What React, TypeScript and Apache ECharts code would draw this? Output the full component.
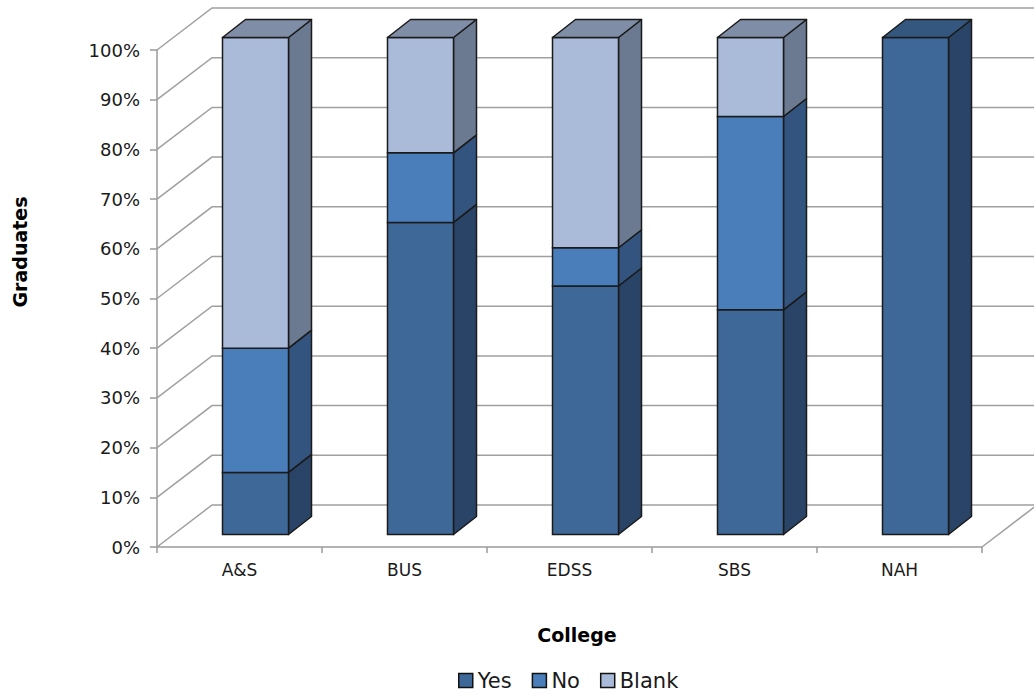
import React, { useEffect, useRef } from "react";
import * as echarts from "echarts";

const categories = ["A&S", "BUS", "EDSS", "SBS", "NAH"];
const yesValues = [12.5, 62.8, 50, 45.2, 100];
const noValues = [25, 14, 7.7, 38.9, 0];
const blankValues = [62.5, 23.2, 42.3, 15.9, 0];
const gridTicks = [0, 10, 20, 30, 40, 50, 60, 70, 80, 90, 100];
const xTitle = "College";
const yTitle = "Graduates";

const FONT = "DejaVu Sans";
const WALL_DX = 55;
const WALL_DY = -42;
const FRONT_DX = 16;
const FRONT_DY = -12.5;
const BAR_HALF = 33;
const DEPTH_DX = 23;
const DEPTH_DY = -18;
const EDGE = "#1a1a1a";

const layers = [
  { name: "Yes", values: yesValues, front: "#3E6898", side: "#2A4467", top: "#34577F" },
  { name: "No", values: noValues, front: "#4A7EBB", side: "#32547F", top: "#3F6A9E" },
  { name: "Blank", values: blankValues, front: "#AABAD9", side: "#6B7A90", top: "#7F8DA6" },
];

function buildBarSeries() {
  return layers.map((layer, li) => {
    const data = categories.map((_, ci) => {
      let base = 0;
      for (let k = 0; k < li; k++) base += layers[k].values[ci];
      const top = base + layer.values[ci];
      let above = 0;
      for (let k = li + 1; k < layers.length; k++) above += layers[k].values[ci];
      return [ci, base, top, above > 0 ? 0 : 1];
    });
    return {
      type: "custom",
      name: layer.name,
      z: 3,
      clip: false,
      itemStyle: { color: layer.front },
      encode: { x: 0, y: 2 },
      data,
      renderItem: (params: any, api: any) => {
        const ci = api.value(0);
        const base = api.value(1);
        const top = api.value(2);
        const isTop = api.value(3) === 1;
        if (top - base <= 0) return { type: "group", children: [] };
        const b = api.coord([ci, base]);
        const t = api.coord([ci, top]);
        const cx = b[0] + FRONT_DX;
        const yb = b[1] + FRONT_DY;
        const yt = t[1] + FRONT_DY;
        const x1 = cx - BAR_HALF;
        const x2 = cx + BAR_HALF;
        const children: any[] = [
          {
            type: "polygon",
            shape: {
              points: [
                [x2, yt],
                [x2 + DEPTH_DX, yt + DEPTH_DY],
                [x2 + DEPTH_DX, yb + DEPTH_DY],
                [x2, yb],
              ],
            },
            style: { fill: layer.side, stroke: EDGE, lineWidth: 1.5, lineJoin: "round" },
          },
          {
            type: "rect",
            shape: { x: x1, y: yt, width: x2 - x1, height: yb - yt },
            style: { fill: layer.front, stroke: EDGE, lineWidth: 1.5 },
          },
        ];
        if (isTop) {
          children.push({
            type: "polygon",
            shape: {
              points: [
                [x1, yt],
                [x1 + DEPTH_DX, yt + DEPTH_DY],
                [x2 + DEPTH_DX, yt + DEPTH_DY],
                [x2, yt],
              ],
            },
            style: { fill: layer.top, stroke: EDGE, lineWidth: 1.5, lineJoin: "round" },
          });
        }
        return { type: "group", children };
      },
    };
  });
}

export default function App() {
  const ref = useRef<HTMLDivElement>(null);
  useEffect(() => {
    if (!ref.current) return;
    const chart = echarts.init(ref.current, undefined, { renderer: "svg" });
    const option: any = {
      animation: false,
      backgroundColor: "#ffffff",
      textStyle: { fontFamily: FONT },
      grid: { left: 157, right: 52, top: 50, bottom: 149, containLabel: false },
      graphic: [
        {
          type: "text",
          x: 577,
          y: 635,
          style: {
            text: xTitle,
            fontFamily: FONT,
            fontSize: 19,
            fontWeight: "bold",
            fill: "#000",
            align: "center",
            verticalAlign: "middle",
          },
        },
        {
          type: "text",
          x: 20,
          y: 252,
          rotation: Math.PI / 2,
          style: {
            text: yTitle,
            fontFamily: FONT,
            fontSize: 19,
            fontWeight: "bold",
            fill: "#000",
            align: "center",
            verticalAlign: "middle",
          },
        },
      ],
      legend: {
        data: ["Yes", "No", "Blank"],
        top: 665,
        left: 453,
        icon: "rect",
        itemWidth: 14,
        itemHeight: 14,
        itemGap: 20,
        itemStyle: { borderColor: "#111", borderWidth: 1.5 },
        textStyle: { fontFamily: FONT, fontSize: 21, color: "#1a1a1a", padding: [0, 0, 0, 0] },
        selectedMode: false,
      },
      xAxis: {
        type: "category",
        data: categories,
        axisLine: { show: true, lineStyle: { color: "#9a9a9a", width: 1.5 } },
        axisTick: { show: true, length: 6, lineStyle: { color: "#9a9a9a", width: 1.5 } },
        axisLabel: { fontFamily: FONT, fontSize: 17, color: "#1a1a1a", margin: 14 },
        splitLine: { show: false },
      },
      yAxis: {
        type: "value",
        min: 0,
        max: 100,
        interval: 10,
        axisLine: { show: true, lineStyle: { color: "#9a9a9a", width: 1.5 } },
        axisTick: { show: true, length: 7, lineStyle: { color: "#9a9a9a", width: 1.5 } },
        axisLabel: { fontFamily: FONT, fontSize: 18, color: "#1a1a1a", margin: 17, formatter: "{value}%" },
        splitLine: { show: false },
      },
      series: [
        {
          type: "custom",
          z: 1,
          silent: true,
          clip: false,
          encode: { x: 0, y: 1 },
          data: gridTicks.map((v) => [0, v]),
          renderItem: (params: any, api: any) => {
            const cs = params.coordSys;
            const v = api.value(1);
            const y = api.coord([0, v])[1];
            const left = cs.x;
            return {
              type: "polyline",
              shape: {
                points: [
                  [left, y],
                  [left + WALL_DX, y + WALL_DY],
                  [1040, y + WALL_DY],
                ],
              },
              style: { stroke: "#a0a0a0", lineWidth: 1.5, fill: null },
            };
          },
        },
        {
          type: "custom",
          z: 1,
          silent: true,
          clip: false,
          encode: { x: 0, y: 1 },
          data: [[0, 0]],
          renderItem: (params: any, api: any) => {
            const cs = params.coordSys;
            const right = cs.x + cs.width;
            const y = api.coord([0, 0])[1];
            return {
              type: "line",
              shape: { x1: right, y1: y, x2: right + WALL_DX, y2: y + WALL_DY },
              style: { stroke: "#a0a0a0", lineWidth: 1.5 },
            };
          },
        },
        ...buildBarSeries(),
      ],
    };
    chart.setOption(option);
    return () => chart.dispose();
  }, []);
  return (
    <div
      ref={ref}
      style={{ position: "absolute", left: 0, top: 0, width: 1034, height: 696 }}
    />
  );
}
